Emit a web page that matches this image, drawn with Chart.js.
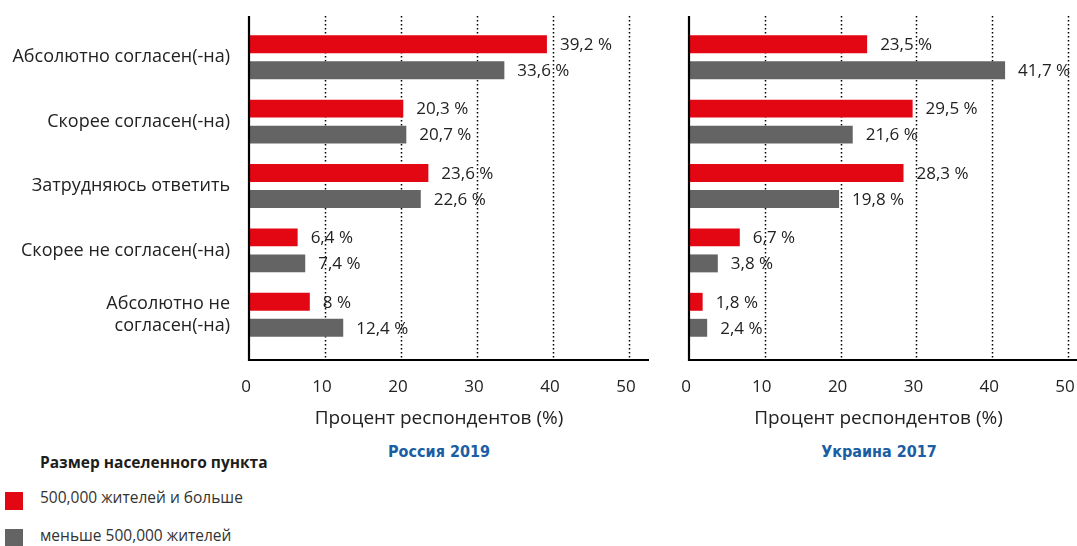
<!DOCTYPE html>
<html>
<head>
<meta charset="utf-8">
<script src="https://cdn.jsdelivr.net/npm/chart.js@4/dist/chart.umd.min.js"></script>
<style>
  body { margin: 0; background: #fff; width: 1077px; height: 546px; overflow: hidden; position: relative; font-family: "Open Sans", sans-serif; color: #222; }
  #russia { position: absolute; left: 0; top: 0; }
  #ukraine { position: absolute; left: 670px; top: 0; }
  .panel-title { position: absolute; top: 442px; width: 200px; text-align: center; font-family: "DejaVu Sans Condensed", "Liberation Sans Narrow", sans-serif; font-weight: bold; font-size: 16px; color: #1b5ea4; }
  .legend-title { position: absolute; left: 40px; top: 451px; font-weight: bold; font-size: 15.5px; color: #1d1d1b; }
  .legend-item { position: absolute; left: 40px; font-size: 15.5px; color: #333; }
  .swatch { position: absolute; left: 5px; width: 18px; height: 18px; }
</style>
</head>
<body>
<canvas id="russia"></canvas>
<canvas id="ukraine"></canvas>
<div class="panel-title" style="left:339px">Россия 2019</div>
<div class="panel-title" style="left:779px">Украина 2017</div>
<div class="legend-title">Размер населенного пункта</div>
<div class="swatch" style="top:492px;background:#e30613"></div>
<div class="legend-item" style="top:486px">500,000 жителей и больше</div>
<div class="swatch" style="top:529px;background:#646464"></div>
<div class="legend-item" style="top:524px">меньше 500,000 жителей</div>
<script>
// Chart data
const categories = [
    'Абсолютно согласен(-на)',
    'Скорее согласен(-на)',
    'Затрудняюсь ответить',
    'Скорее не согласен(-на)',
    ['Абсолютно не', 'согласен(-на)']
];
const seriesNames = ['500,000 жителей и больше', 'меньше 500,000 жителей'];
const russiaBig = [39.2, 20.3, 23.6, 6.4, 8];
const russiaSmall = [33.6, 20.7, 22.6, 7.4, 12.4];
const ukraineBig = [23.5, 29.5, 28.3, 6.7, 1.8];
const ukraineSmall = [41.7, 21.6, 19.8, 3.8, 2.4];
const xTicks = [0, 10, 20, 30, 40, 50];
const axisTitle = 'Процент респондентов (%)';

const RED = '#e30613';
const GRAY = '#646464';
const TEXT = '#222222';

// value labels at the end of each bar, e.g. "39,2 %"
const valueLabels = {
    id: 'valueLabels',
    afterDatasetsDraw(chart) {
        const ctx = chart.ctx;
        ctx.save();
        ctx.font = '17px "Open Sans"';
        ctx.fillStyle = TEXT;
        ctx.textAlign = 'left';
        ctx.textBaseline = 'middle';
        chart.data.datasets.forEach((ds, i) => {
            chart.getDatasetMeta(i).data.forEach((bar, j) => {
                const txt = String(ds.data[j]).replace('.', ',') + ' %';
                ctx.fillText(txt, bar.x + 13, bar.y + 1);
            });
        });
        ctx.restore();
    }
};

// axis lines and dotted grid lines, a bit longer than the plot area
const frameLines = {
    id: 'frameLines',
    beforeDatasetsDraw(chart) {
        const ctx = chart.ctx;
        const area = chart.chartArea;
        const x = chart.scales.x;
        const top = area.top - 9;
        const bottom = area.bottom + 13;
        ctx.save();
        ctx.strokeStyle = '#000';
        ctx.lineWidth = 1.5;
        ctx.setLineDash([1.5, 2.5]);
        xTicks.slice(1).forEach(v => {
            const px = Math.round(x.getPixelForValue(v)) + 0.5;
            ctx.beginPath();
            ctx.moveTo(px, top);
            ctx.lineTo(px, bottom);
            ctx.stroke();
        });
        ctx.restore();
    },
    afterDatasetsDraw(chart) {
        const ctx = chart.ctx;
        const area = chart.chartArea;
        const top = area.top - 9;
        const bottom = area.bottom + 13;
        ctx.save();
        ctx.strokeStyle = '#000';
        ctx.lineWidth = 2.2;
        ctx.beginPath();
        ctx.moveTo(area.left, top);
        ctx.lineTo(area.left, bottom);
        ctx.lineTo(area.right + 20, bottom);
        ctx.stroke();
        ctx.restore();
    }
};

function createPanel(id, width, big, small, showLabels, yWidth, padRight) {
    const canvas = document.getElementById(id);
    canvas.width = width;
    canvas.height = 440;
    canvas.style.width = width + 'px';
    canvas.style.height = '440px';
    const ctx = canvas.getContext('2d');
    return new Chart(ctx, {
        type: 'bar',
        data: {
            labels: categories,
            datasets: [
                { label: seriesNames[0], data: big, backgroundColor: RED },
                { label: seriesNames[1], data: small, backgroundColor: GRAY }
            ]
        },
        options: {
            indexAxis: 'y',
            responsive: false,
            animation: false,
            devicePixelRatio: 1,
            categoryPercentage: 0.807,
            barPercentage: 0.69,
            layout: { padding: { top: 25, right: padRight, bottom: 0, left: 0 } },
            plugins: {
                legend: { display: false },
                tooltip: { enabled: false }
            },
            scales: {
                x: {
                    min: 0,
                    max: 50,
                    afterFit(scale) { scale.height = 440 - 347; },
                    afterBuildTicks(scale) { scale.ticks = xTicks.map(v => ({ value: v })); },
                    // invisible tick marks only push the labels down
                    grid: { display: true, drawOnChartArea: false, drawTicks: true, tickLength: 30, color: 'rgba(0,0,0,0)' },
                    border: { display: false },
                    ticks: {
                        padding: 0,
                        labelOffset: -3,
                        color: TEXT,
                        font: { family: 'Open Sans', size: 17 }
                    },
                    title: {
                        display: true,
                        text: axisTitle,
                        color: TEXT,
                        padding: { top: 0, bottom: 10 },
                        font: { family: 'Open Sans', size: 19 }
                    }
                },
                y: {
                    afterFit(scale) { scale.width = yWidth; },
                    grid: { display: true, drawOnChartArea: false, drawTicks: true, tickLength: 19, color: 'rgba(0,0,0,0)' },
                    border: { display: false },
                    ticks: {
                        display: showLabels,
                        padding: 0,
                        color: TEXT,
                        font: { family: 'Open Sans', size: 18, lineHeight: 1.2 }
                    }
                }
            }
        },
        plugins: [frameLines, valueLabels]
    });
}

createPanel('russia', 670, russiaBig, russiaSmall, true, 249, 41);
createPanel('ukraine', 430, ukraineBig, ukraineSmall, false, 19, 32);
</script>
</body>
</html>
